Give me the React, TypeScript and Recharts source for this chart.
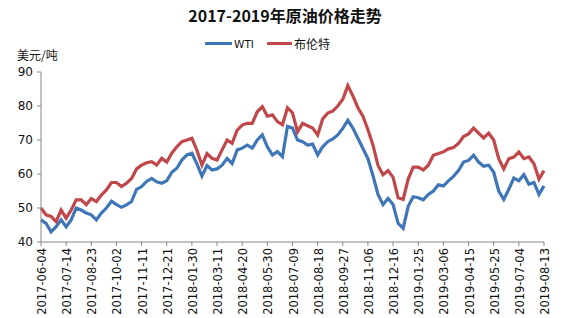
import React from 'react';
import { LineChart, Line, XAxis, YAxis } from 'recharts';

const dates = [
  '2017-06-04', '2017-06-12', '2017-06-20', '2017-06-28', '2017-07-06',
  '2017-07-14', '2017-07-22', '2017-07-30', '2017-08-07', '2017-08-15',
  '2017-08-23', '2017-08-31', '2017-09-08', '2017-09-16', '2017-09-24',
  '2017-10-02', '2017-10-10', '2017-10-18', '2017-10-26', '2017-11-03',
  '2017-11-11', '2017-11-19', '2017-11-27', '2017-12-05', '2017-12-13',
  '2017-12-21', '2017-12-29', '2018-01-06', '2018-01-14', '2018-01-22',
  '2018-01-30', '2018-02-07', '2018-02-15', '2018-02-23', '2018-03-03',
  '2018-03-11', '2018-03-19', '2018-03-27', '2018-04-04', '2018-04-12',
  '2018-04-20', '2018-04-28', '2018-05-06', '2018-05-14', '2018-05-22',
  '2018-05-30', '2018-06-07', '2018-06-15', '2018-06-23', '2018-07-01',
  '2018-07-09', '2018-07-17', '2018-07-25', '2018-08-02', '2018-08-10',
  '2018-08-18', '2018-08-26', '2018-09-03', '2018-09-11', '2018-09-19',
  '2018-09-27', '2018-10-05', '2018-10-13', '2018-10-21', '2018-10-29',
  '2018-11-06', '2018-11-14', '2018-11-22', '2018-11-30', '2018-12-08',
  '2018-12-16', '2018-12-24', '2019-01-01', '2019-01-09', '2019-01-17',
  '2019-01-25', '2019-02-02', '2019-02-10', '2019-02-18', '2019-02-26',
  '2019-03-06', '2019-03-14', '2019-03-22', '2019-03-30', '2019-04-07',
  '2019-04-15', '2019-04-23', '2019-05-01', '2019-05-09', '2019-05-17',
  '2019-05-25', '2019-06-02', '2019-06-10', '2019-06-18', '2019-06-26',
  '2019-07-04', '2019-07-12', '2019-07-20', '2019-07-28', '2019-08-05',
  '2019-08-13'];

const wti = [
  46.5, 45.5, 43, 44.5, 46.5, 44.5, 46.5, 50, 49.4, 48.5,
  48, 46.5, 48.5, 50, 52, 51, 50.2, 50.9, 51.9, 55.5,
  56.3, 57.8, 58.7, 57.7, 57.3, 58, 60.5, 61.7, 64.1, 65.6,
  66.1, 63, 59.4, 62.5, 61.2, 61.5, 62.6, 64.6, 63.1, 67.1,
  67.6, 68.5, 67.6, 70, 71.5, 68, 65.6, 66.6, 65.1, 74,
  73.5, 70, 69.5, 68.5, 68.8, 65.6, 68, 69.5, 70.3, 71.5,
  73.4, 75.8, 73.5, 70.5, 67.5, 64.5, 59.5, 54, 51, 52.8,
  51, 45.5, 44, 50.5, 53.3, 53, 52.4, 54, 55, 56.8,
  56.5, 58, 59.3, 61, 63.5, 64, 65.5, 63.5, 62.3, 62.6,
  60.5, 55, 52.5, 55.5, 58.8, 58, 59.8, 57, 57.5, 54,
  56.5];

const brent = [
  50, 48, 47.5, 46, 49.4, 47, 49.4, 52.4, 52.4, 51,
  52.8, 51.9, 53.8, 55.3, 57.5, 57.5, 56.3, 57.3, 58.7, 61.5,
  62.6, 63.3, 63.6, 62.6, 64.6, 63.5, 66.1, 68, 69.5, 70,
  70.5, 67, 62.6, 66, 64.6, 64.1, 67.1, 70, 69, 72.9,
  74.4, 74.9, 74.9, 78.3, 79.8, 77, 77.4, 75.4, 74.5, 79.5,
  78, 72.4, 74.9, 74.2, 73.5, 71.5, 76.2, 77.9, 78.5, 80,
  82, 86, 83, 79.5, 77, 73, 68.5, 62.5, 59.8, 61,
  59, 53, 52.5, 58.5, 62, 62, 61.2, 62.6, 65.5, 66,
  66.5, 67.4, 67.8, 69, 71, 71.8, 73.5, 72, 70.6, 72,
  70, 64.5, 61.5, 64.5, 65, 66.5, 64.5, 65, 63, 58.5,
  61];

const yTicks = [40, 45, 50, 55, 60, 65, 70, 75, 80, 85, 90];

const data = dates.map((d, i) => ({ date: d, wti: wti[i], brent: brent[i] }));

const BLUE = '#3f76b8';
const RED = '#c0474a';
const AXIS = '#868686';
const FONT = '"DejaVu Sans", sans-serif';
const CJK = '"Noto Sans CJK SC", sans-serif';

const DateTick = ({ x, y, payload }: any) =>
<g transform={`translate(${x},${y})`}>
    <text x={0} y={5} textAnchor="end" transform="rotate(-90)" fontSize={11.5} fontFamily={FONT} fill="#111">
      {payload.value}
    </text>
  </g>;


export default function App() {
  return (
    <div style={{ position: 'absolute', left: 0, top: 0, width: 562, height: 318, background: '#fff' }}>
      <div style={{ position: 'absolute', left: 0, top: 3, width: 570, textAlign: 'center', fontFamily: CJK, fontWeight: 'bold', fontSize: 16, color: '#111' }}>
        2017-2019年原油价格走势
      </div>
      <div style={{ position: 'absolute', left: 205, top: 35, display: 'flex', alignItems: 'center', fontFamily: CJK, fontSize: 12, color: '#111' }}>
        <span style={{ width: 27, height: 3, background: BLUE, display: 'inline-block', marginRight: 2 }} />
        <span style={{ fontFamily: FONT, fontSize: 10.5, marginRight: 13 }}>WTI</span>
        <span style={{ width: 25, height: 3, background: RED, display: 'inline-block', marginRight: 2 }} />
        <span>布伦特</span>
      </div>
      <div style={{ position: 'absolute', left: 17, top: 46, fontFamily: CJK, fontSize: 12, color: '#111' }}>美元/吨</div>
      <LineChart width={562} height={318} data={data} margin={{ top: 72, right: 18, bottom: 6, left: 6 }}>
        <XAxis
          dataKey="date"
          interval={4}
          height={70}
          tick={<DateTick />}
          tickSize={4}
          stroke={AXIS}
          tickLine={{ stroke: AXIS }} />
        
        <YAxis
          domain={[40, 90]}
          ticks={yTicks}
          width={35}
          tickSize={4}
          tickMargin={4}
          stroke={AXIS}
          tick={{ fontSize: 12, fontFamily: FONT, fill: '#111' }} />
        
        <Line dataKey="wti" name="WTI" stroke={BLUE} strokeWidth={3.2} dot={false} isAnimationActive={false} />
        <Line dataKey="brent" name="布伦特" stroke={RED} strokeWidth={3.2} dot={false} isAnimationActive={false} />
      </LineChart>
    </div>);

}
